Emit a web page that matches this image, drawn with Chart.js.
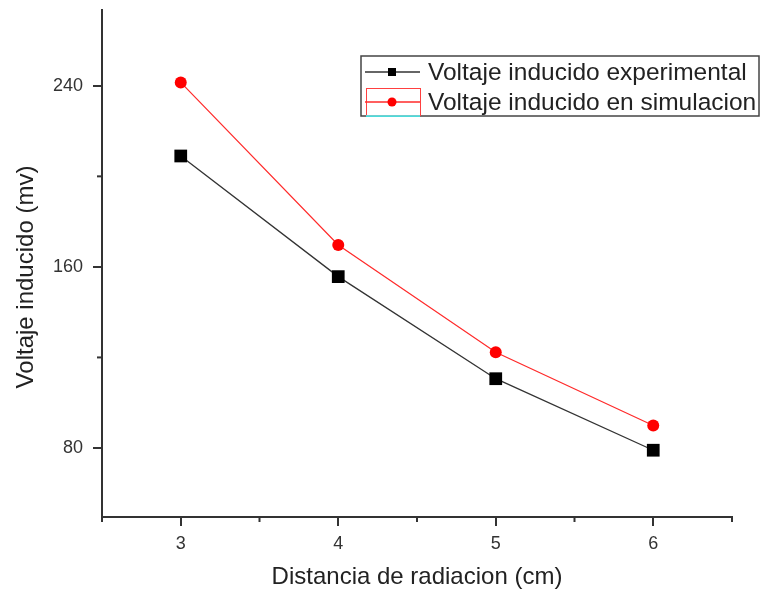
<!DOCTYPE html>
<html>
<head>
<meta charset="utf-8">
<script src="https://cdn.jsdelivr.net/npm/chart.js@4"></script>
<style>
  html, body { margin: 0; padding: 0; background: #fff; }
</style>
</head>
<body>
<canvas id="grafico" width="761" height="594"></canvas>
<script>
// datos
const distancias = [3, 4, 5, 6];
const voltajeExperimental = [209, 155.7, 110.6, 79];
const voltajeSimulacion = [241.5, 169.7, 122.3, 89.9];
const etiquetasX = [3, 4, 5, 6];
const etiquetasY = [80, 160, 240];
const tituloY = 'Voltaje inducido (mv)';

const fuente = "'Liberation Sans', Arial, sans-serif";

const puntos = (ys) => distancias.map((x, i) => ({ x: x, y: ys[i] }));

// ticks menores (mas cortos) y titulo del eje y
const ejes = {
    id: 'ejes',
    afterDraw(chart) {
        const ctx = chart.ctx;
        const sx = chart.scales.x, sy = chart.scales.y;
        ctx.save();
        ctx.strokeStyle = '#333';
        ctx.lineWidth = 2;
        sx.ticks.forEach(t => {
            if (etiquetasX.includes(t.value)) return;
            const px = sx.getPixelForValue(t.value);
            ctx.beginPath();
            ctx.moveTo(px, sx.top);
            ctx.lineTo(px, sx.top + 5);
            ctx.stroke();
        });
        sy.ticks.forEach(t => {
            if (etiquetasY.includes(t.value)) return;
            const py = sy.getPixelForValue(t.value);
            ctx.beginPath();
            ctx.moveTo(sy.right, py);
            ctx.lineTo(sy.right - 5, py);
            ctx.stroke();
        });
        // titulo vertical, algo por debajo del centro como en el original
        ctx.translate(26, 277);
        ctx.rotate(-Math.PI / 2);
        ctx.fillStyle = '#222';
        ctx.font = '24px ' + fuente;
        ctx.textAlign = 'center';
        ctx.textBaseline = 'middle';
        ctx.fillText(tituloY, 0, 0);
        ctx.restore();
    }
};

// leyenda con recuadro dentro del grafico
const leyenda = {
    id: 'leyenda',
    afterDraw(chart) {
        const ctx = chart.ctx;
        ctx.save();
        ctx.strokeStyle = '#444';
        ctx.lineWidth = 1.5;
        ctx.strokeRect(361, 56, 398, 60);
        chart.data.datasets.forEach((ds, i) => {
            const y = 72 + i * 30;
            if (i === 1) {
                // recuadro rojo y linea cian que aparecen en la figura original
                ctx.strokeStyle = '#ff4040';
                ctx.lineWidth = 1;
                ctx.strokeRect(366.5, 88.5, 54, 27);
                ctx.strokeStyle = '#40ffff';
                ctx.lineWidth = 1.5;
                ctx.beginPath();
                ctx.moveTo(366, 116);
                ctx.lineTo(420, 116);
                ctx.stroke();
            }
            ctx.strokeStyle = ds.borderColor;
            ctx.lineWidth = 1.5;
            ctx.beginPath();
            ctx.moveTo(365, y);
            ctx.lineTo(420, y);
            ctx.stroke();
            ctx.fillStyle = ds.pointBackgroundColor;
            if (ds.pointStyle === 'rect') {
                ctx.fillRect(388, y - 4, 8, 8);
            } else {
                ctx.beginPath();
                ctx.arc(392, y, 4.5, 0, Math.PI * 2);
                ctx.fill();
            }
            ctx.fillStyle = '#222';
            ctx.font = '24.5px ' + fuente;
            ctx.textBaseline = 'middle';
            ctx.fillText(ds.label, 428, y + 1);
        });
        ctx.restore();
    }
};

new Chart(document.getElementById('grafico'), {
    type: 'line',
    data: {
        datasets: [{
            label: 'Voltaje inducido experimental',
            data: puntos(voltajeExperimental),
            borderColor: '#333',
            borderWidth: 1.3,
            pointStyle: 'rect',
            pointRadius: 9,
            pointBackgroundColor: '#000',
            pointBorderWidth: 0,
            tension: 0
        }, {
            label: 'Voltaje inducido en simulacion',
            data: puntos(voltajeSimulacion),
            borderColor: '#ff2a2a',
            borderWidth: 1.2,
            pointStyle: 'circle',
            pointRadius: 6,
            pointBackgroundColor: '#ff0000',
            pointBorderWidth: 0,
            tension: 0
        }]
    },
    options: {
        responsive: false,
        animation: false,
        layout: { padding: { top: 10, right: 29, left: 0, bottom: 0 } },
        plugins: {
            legend: { display: false },
            tooltip: { enabled: false }
        },
        scales: {
            x: {
                type: 'linear',
                min: 2.5,
                max: 6.5,
                afterFit: s => { s.height = 77; s.paddingLeft = 0; s.paddingRight = 0; },
                border: { color: '#333', width: 2 },
                grid: {
                    drawOnChartArea: false,
                    tickLength: 9,
                    lineWidth: 2,
                    tickColor: c => (c.tick && etiquetasX.includes(c.tick.value)) ? '#333' : 'rgba(0,0,0,0)'
                },
                ticks: {
                    stepSize: 0.5,
                    includeBounds: false,
                    padding: 7,
                    maxRotation: 0,
                    autoSkip: false,
                    color: '#333',
                    font: { family: fuente, size: 18 },
                    callback: v => etiquetasX.includes(v) ? String(v) : ''
                },
                title: {
                    display: true,
                    text: 'Distancia de radiacion (cm)',
                    color: '#222',
                    font: { family: fuente, size: 24 },
                    padding: { top: 0, bottom: 2 }
                }
            },
            y: {
                min: 49.5,
                max: 273.5,
                afterFit: s => { s.width = 102; s.paddingTop = 0; s.paddingBottom = 0; },
                border: { color: '#333', width: 2 },
                grid: {
                    drawOnChartArea: false,
                    tickLength: 9,
                    lineWidth: 2,
                    tickColor: c => (c.tick && etiquetasY.includes(c.tick.value)) ? '#333' : 'rgba(0,0,0,0)'
                },
                ticks: {
                    stepSize: 40,
                    includeBounds: false,
                    padding: 10,
                    autoSkip: false,
                    color: '#333',
                    font: { family: fuente, size: 18 },
                    callback: v => etiquetasY.includes(v) ? String(v) : ''
                },
                title: { display: false }
            }
        }
    },
    plugins: [ejes, leyenda]
});
</script>
</body>
</html>
